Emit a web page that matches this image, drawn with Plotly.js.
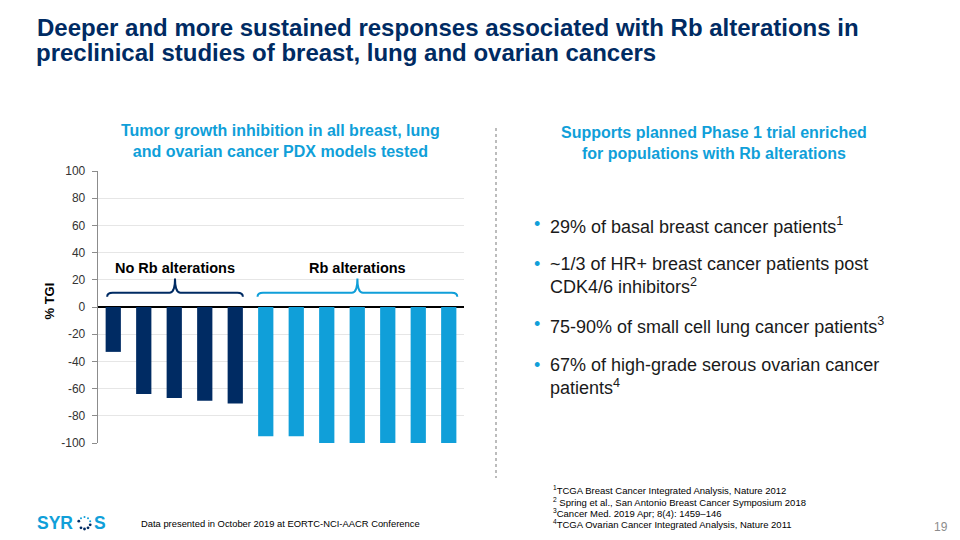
<!DOCTYPE html>
<html>
<head>
<meta charset="utf-8">
<script src="https://cdn.plot.ly/plotly-3.0.1.min.js"></script>
<style>
html,body{margin:0;padding:0;background:#fff;}
#chart{width:960px;height:540px;}
</style>
</head>
<body>
<div id="chart"></div>
<script>
// ---- Data ----
var noRbModels = ['PDX 1','PDX 2','PDX 3','PDX 4','PDX 5'];
var noRbTGI = [-33, -64, -67, -69, -71];
var rbModels = ['PDX 6','PDX 7','PDX 8','PDX 9','PDX 10','PDX 11','PDX 12'];
var rbTGI = [-95, -95, -100, -100, -100, -100, -100];
var yTicks = [100, 80, 60, 40, 20, 0, -20, -40, -60, -80, -100];
var yTickText = ['100', '80', '60', '40', '20', '0', '-20', '-40', '-60', '-80', '-100'];
var groupLabels = ['No Rb alterations', 'Rb alterations'];
var titleLines = ['Deeper and more sustained responses associated with Rb alterations in',
                  'preclinical studies of breast, lung and ovarian cancers'];
var bullets = [
  '29% of basal breast cancer patients<sup>1</sup>',
  '~1/3 of HR+ breast cancer patients post<br>CDK4/6 inhibitors<sup>2</sup>',
  '75-90% of small cell lung cancer patients<sup>3</sup>',
  '67% of high-grade serous ovarian cancer<br>patients<sup>4</sup>'
];
var footnotes = [
  '<sup>1</sup>TCGA Breast Cancer Integrated Analysis, Nature 2012',
  '<sup>2</sup> Spring et al., San Antonio Breast Cancer Symposium 2018',
  '<sup>3</sup>Cancer Med. 2019 Apr; 8(4): 1459–146',
  '<sup>4</sup>TCGA Ovarian Cancer Integrated Analysis, Nature 2011'
];

var NAVY = '#002B63';
var LIGHT = '#109FD9';
var FONT = 'Liberation Sans, Arial, sans-serif';

var allModels = noRbModels.concat(rbModels);
var n = allModels.length;

var traces = [
  {type:'bar', name:groupLabels[0], x:noRbModels, y:noRbTGI, marker:{color:NAVY}, hoverinfo:'x+y'},
  {type:'bar', name:groupLabels[1], x:rbModels, y:rbTGI, marker:{color:LIGHT}, hoverinfo:'x+y'}
];

function py(p){ return 1 - p/540; }
function px(p){ return p/960; }

// bracket helper in linear overlay axis (category index units)
function bracket(x0, x1, xm, color){
  var yl = 7.5, ym = 10.5, yt = 21, d = 0.18;
  return {type:'path', xref:'x2', yref:'y', layer:'above',
    path:'M '+x0+' '+yl+' Q '+x0+' '+ym+' '+(x0+d)+' '+ym+
         ' L '+(xm-d)+' '+ym+' Q '+xm+' '+ym+' '+xm+' '+yt+
         ' Q '+xm+' '+ym+' '+(xm+d)+' '+ym+
         ' L '+(x1-d)+' '+ym+' Q '+x1+' '+ym+' '+x1+' '+yl,
    line:{color:color, width:2}};
}
var b1x0 = -0.2, b1x1 = noRbModels.length - 0.75;
var b2x0 = noRbModels.length - 0.27, b2x1 = n - 0.72;
var b1m = (b1x0 + b1x1)/2, b2m = (b2x0 + b2x1)/2;

var annotations = [
  {xref:'paper', yref:'paper', x:px(34), y:py(53), xanchor:'left', yanchor:'middle', showarrow:false,
   text:'<b>'+titleLines[1]+'</b>', font:{family:FONT, size:24, color:NAVY}},
  {xref:'paper', yref:'paper', x:px(280), y:py(120), xanchor:'center', yanchor:'top', showarrow:false,
   text:'<b>Tumor growth inhibition in all breast, lung<br>and ovarian cancer PDX models tested</b>',
   font:{family:FONT, size:16, color:LIGHT}, align:'center'},
  {xref:'paper', yref:'paper', x:px(714), y:py(122), xanchor:'center', yanchor:'top', showarrow:false,
   text:'<b>Supports planned Phase 1 trial enriched<br>for populations with Rb alterations</b>',
   font:{family:FONT, size:16, color:LIGHT}, align:'center'},
  {xref:'x2', yref:'y', x:b1m, y:29, showarrow:false, text:'<b>'+groupLabels[0]+'</b>',
   font:{family:FONT, size:14.5, color:'#000'}},
  {xref:'x2', yref:'y', x:b2m, y:29, showarrow:false, text:'<b>'+groupLabels[1]+'</b>',
   font:{family:FONT, size:14.5, color:'#000'}},
  {xref:'paper', yref:'paper', x:px(39), y:py(301), textangle:-90, showarrow:false,
   text:'<b>% TGI</b>', font:{family:FONT, size:13, color:'#000'}},
  {xref:'paper', yref:'paper', x:px(139), y:py(523), xanchor:'left', yanchor:'middle', showarrow:false,
   text:'Data presented in October 2019 at EORTC-NCI-AACR Conference', font:{family:FONT, size:9.4, color:'#000'}},
  {xref:'paper', yref:'paper', x:px(950), y:py(527), xanchor:'right', yanchor:'middle', showarrow:false,
   text:'19', font:{family:FONT, size:12, color:'#8c8c8c'}},
  {xref:'paper', yref:'paper', x:px(35), y:py(523), xanchor:'left', yanchor:'middle', showarrow:false,
   text:'<b>SYR</b>', font:{family:FONT, size:17.5, color:LIGHT}},
  {xref:'paper', yref:'paper', x:px(92), y:py(523), xanchor:'left', yanchor:'middle', showarrow:false,
   text:'<b>S</b>', font:{family:FONT, size:17.5, color:LIGHT}}
];

// bullets
var bulletTops = [212, 252, 312, 353];
bullets.forEach(function(t, i){
  annotations.push({xref:'paper', yref:'paper', x:px(532), y:py(bulletTops[i]), xanchor:'left', yanchor:'top',
    showarrow:false, text:'•', font:{family:FONT, size:18, color:LIGHT}});
  annotations.push({xref:'paper', yref:'paper', x:px(548), y:py(bulletTops[i]), xanchor:'left', yanchor:'top',
    showarrow:false, text:t, align:'left', font:{family:FONT, size:18, color:'#1a1a1a'}});
});
var footY = [490, 501.5, 512.5, 523.5];
footnotes.forEach(function(t, i){
  annotations.push({xref:'paper', yref:'paper', x:px(551), y:py(footY[i]), xanchor:'left', yanchor:'middle',
    showarrow:false, align:'left', text:t, font:{family:FONT, size:9.5, color:'#000'}});
});

var shapes = [
  bracket(b1x0, b1x1, b1m, NAVY),
  bracket(b2x0, b2x1, b2m, LIGHT),
  {type:'line', xref:'paper', yref:'paper', x0:px(496), x1:px(496), y0:py(128), y1:py(478),
   line:{color:'#a6a6a6', width:1.5, dash:'dot'}}
];
// logo ring dots
var ringCx = 84.5, ringCy = 523, ringR = 6;
for (var k = 0; k < 10; k++){
  var a = -Math.PI/2 + k*2*Math.PI/10;
  if (k === 7) continue;
  var cx = ringCx + ringR*Math.cos(a), cy = ringCy + ringR*Math.sin(a);
  var s = (k<3||k>8) ? 1.0 : 1.4;
  shapes.push({type:'circle', xref:'paper', yref:'paper', x0:px(cx-s), x1:px(cx+s), y0:py(cy+s), y1:py(cy-s),
    fillcolor: (k<3||k>8) ? LIGHT : NAVY, line:{width:0}});
}

var layout = {
  width:960, height:540,
  margin:{l:0, r:0, t:0, b:0},
  paper_bgcolor:'#fff', plot_bgcolor:'#fff',
  showlegend:false,
  barmode:'overlay',
  bargap:0.5,
  font:{family:FONT},
  title:{text:'<b>'+titleLines[0]+'</b>',
    xref:'container', yref:'container', x:px(37), xanchor:'left', y:py(28), yanchor:'middle',
    font:{family:FONT, size:24, color:NAVY}},
  xaxis:{domain:[px(98), px(464)], type:'category', categoryorder:'array', categoryarray:allModels,
    showticklabels:false, ticks:'', showgrid:false, zeroline:false, showline:false, fixedrange:true},
  xaxis2:{overlaying:'x', domain:[px(98), px(464)], range:[-0.5, n-0.5], visible:false, fixedrange:true},
  yaxis:{domain:[py(443), py(171)], range:[-100,100], tickvals:yTicks, ticktext:yTickText,
    showgrid:true, gridcolor:'#e6e6e6', gridwidth:1,
    zeroline:true, zerolinecolor:'#000', zerolinewidth:1.3,
    showline:true, linecolor:'#8c8c8c', linewidth:1.3, ticks:'outside', ticklen:5, tickcolor:'#8c8c8c',
    ticklabelstandoff:4,
    tickfont:{family:FONT, size:12, color:'#333'}, fixedrange:true},
  annotations:annotations,
  shapes:shapes
};
traces.push({type:'scatter', x:[0], y:[0], xaxis:'x2', yaxis:'y', mode:'markers', marker:{opacity:0}, hoverinfo:'skip'});

Plotly.newPlot('chart', traces, layout, {displayModeBar:false, staticPlot:true});
</script>
</body>
</html>
